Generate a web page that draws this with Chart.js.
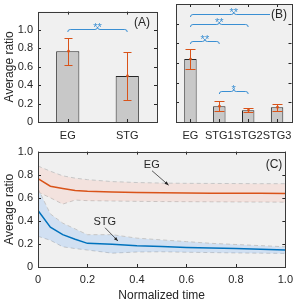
<!DOCTYPE html>
<html>
<head>
<meta charset="utf-8">
<script src="https://cdn.jsdelivr.net/npm/chart.js@4.4.0/dist/chart.umd.min.js"></script>
<style>
  html, body { margin: 0; padding: 0; background: #fff; width: 299px; height: 302px; overflow: hidden; }
  canvas { position: absolute; }
</style>
</head>
<body>
<canvas id="chartA" width="165" height="150" style="left:0;top:0"></canvas>
<canvas id="chartB" width="134" height="150" style="left:165px;top:0"></canvas>
<canvas id="chartC" width="299" height="162" style="left:0;top:140px"></canvas>
<script>
// panel A
const groupsA = ['EG', 'STG'];
const meanA = [0.77, 0.50];
const lowA = [0.62, 0.235];
const highA = [0.91, 0.76];
const sigFromA = [0];
const sigToA = [1];
const sigLevelA = [1.01];
const sigMarkA = ['**'];

// panel B
const groupsB = ['EG', 'STG1', 'STG2', 'STG3'];
const meanB = [0.64, 0.16, 0.12, 0.15];
const lowB = [0.535, 0.11, 0.105, 0.11];
const highB = [0.74, 0.21, 0.14, 0.18];
const sigFromB = [0, 0, 0, 1];
const sigToB = [3, 2, 1, 2];
const sigLevelB = [1.10, 1.0, 0.82, 0.32];
const sigMarkB = ['**', '**', '**', '*'];

// panel C
const timePoints = [0, 0.05, 0.1, 0.15, 0.2, 0.3, 0.4, 0.5, 0.6, 0.7, 0.8, 0.9, 1.0];
const egMean  = [0.765, 0.70, 0.68, 0.662, 0.656, 0.650, 0.646, 0.643, 0.641, 0.640, 0.639, 0.638, 0.637];
const egUpper = [0.875, 0.83, 0.79, 0.77, 0.757, 0.74, 0.732, 0.727, 0.725, 0.724, 0.723, 0.722, 0.722];
const egLower = [0.65, 0.60, 0.545, 0.58, 0.575, 0.572, 0.569, 0.567, 0.566, 0.565, 0.564, 0.563, 0.562];
const stgMean  = [0.49, 0.345, 0.28, 0.24, 0.205, 0.198, 0.185, 0.178, 0.17, 0.165, 0.16, 0.153, 0.147];
const stgUpper = [0.68, 0.46, 0.38, 0.33, 0.28, 0.28, 0.25, 0.235, 0.22, 0.205, 0.195, 0.185, 0.175];
const stgLower = [0.266, 0.232, 0.175, 0.16, 0.147, 0.12, 0.13, 0.132, 0.128, 0.125, 0.122, 0.12, 0.118];

// text arrows in panel C (data coords)
const notes = [
  { text: 'EG',  tx: 0.46, ty: 0.888, from: [0.461, 0.834], to: [0.528, 0.709] },
  { text: 'STG', tx: 0.27, ty: 0.39,  from: [0.271, 0.34],  to: [0.323, 0.226] }
];

const INK = '#262626';
const ORANGE = '#d95319';
const BLUE = '#0072bd';
const BRACE = '#3a8fd3';
const FONT = "'Liberation Sans', Arial, sans-serif";

Chart.defaults.font.family = FONT;
Chart.defaults.color = INK;

const panelBg = {
  id: 'panelBg',
  beforeDraw(chart) {
    const a = chart.chartArea, ctx = chart.ctx;
    ctx.save();
    ctx.fillStyle = '#f0f0f0';
    ctx.fillRect(a.left, a.top, a.right - a.left, a.bottom - a.top);
    ctx.restore();
  }
};

// box round the axes, with inward tick marks on all four sides
const boxTicks = {
  id: 'boxTicks',
  afterDraw(chart) {
    const { ctx, chartArea: a, scales } = chart;
    const L = 3;
    ctx.save();
    ctx.strokeStyle = INK;
    ctx.lineWidth = 1;
    ctx.beginPath();
    scales.x.ticks.forEach((t, i) => {
      const px = Math.round(scales.x.getPixelForTick(i)) + 0.5;
      ctx.moveTo(px, a.bottom); ctx.lineTo(px, a.bottom - L);
      ctx.moveTo(px, a.top); ctx.lineTo(px, a.top + L);
    });
    scales.y.ticks.forEach((t, i) => {
      const py = Math.round(scales.y.getPixelForTick(i)) + 0.5;
      ctx.moveTo(a.left, py); ctx.lineTo(a.left + L, py);
      ctx.moveTo(a.right, py); ctx.lineTo(a.right - L, py);
    });
    ctx.stroke();
    ctx.strokeStyle = '#3a3a3a';
    ctx.strokeRect(Math.round(a.left) + 0.5, Math.round(a.top) + 0.5,
                   Math.round(a.right - a.left), Math.round(a.bottom - a.top));
    ctx.restore();
  }
};

function errorBars(low, high, cap) {
  return {
    id: 'errorBars',
    afterDatasetsDraw(chart) {
      const ctx = chart.ctx, x = chart.scales.x, y = chart.scales.y;
      const mean = chart.data.datasets[0].data;
      ctx.save();
      ctx.strokeStyle = ORANGE;
      ctx.fillStyle = ORANGE;
      ctx.lineWidth = 1;
      low.forEach((lo, i) => {
        const px = Math.round(x.getPixelForValue(i)) + 0.5;
        const y1 = Math.round(y.getPixelForValue(lo)) + 0.5;
        const y2 = Math.round(y.getPixelForValue(high[i])) + 0.5;
        ctx.beginPath();
        ctx.moveTo(px, y1); ctx.lineTo(px, y2);
        ctx.moveTo(px - cap, y1); ctx.lineTo(px + cap, y1);
        ctx.moveTo(px - cap, y2); ctx.lineTo(px + cap, y2);
        ctx.stroke();
        ctx.beginPath();
        ctx.arc(px, y.getPixelForValue(mean[i]), 1.4, 0, Math.PI * 2);
        ctx.fill();
      });
      ctx.restore();
    }
  };
}

function braces(from, to, level, mark) {
  return {
    id: 'braces',
    afterDatasetsDraw(chart) {
      const ctx = chart.ctx, x = chart.scales.x, y = chart.scales.y;
      const h = 2.5;
      ctx.save();
      ctx.strokeStyle = BRACE;
      ctx.fillStyle = BRACE;
      ctx.lineWidth = 1;
      ctx.font = '11px ' + FONT;
      ctx.textAlign = 'center';
      ctx.textBaseline = 'alphabetic';
      from.forEach((f, i) => {
        const x1 = x.getPixelForValue(f), x2 = x.getPixelForValue(to[i]);
        const xm = (x1 + x2) / 2;
        const py = Math.round(y.getPixelForValue(level[i])) + 0.5;
        ctx.beginPath();
        ctx.moveTo(x1, py + h);
        ctx.quadraticCurveTo(x1, py, x1 + h, py);
        ctx.lineTo(xm - h, py);
        ctx.quadraticCurveTo(xm, py, xm, py - h);
        ctx.quadraticCurveTo(xm, py, xm + h, py);
        ctx.lineTo(x2 - h, py);
        ctx.quadraticCurveTo(x2, py, x2, py + h);
        ctx.stroke();
        ctx.fillText(mark[i], xm, py + 1);
      });
      ctx.restore();
    }
  };
}

function panelLabel(text, inset, dy) {
  return {
    id: 'panelLabel',
    afterDatasetsDraw(chart) {
      const ctx = chart.ctx, a = chart.chartArea;
      ctx.save();
      ctx.font = '12px ' + FONT;
      const w = ctx.measureText(text).width;
      const xr = a.right - inset, yc = a.top + dy;
      ctx.fillStyle = '#f0f0f0';
      ctx.fillRect(xr - w - 1, yc - 7, w + 2, 14);
      ctx.fillStyle = INK;
      ctx.textAlign = 'right';
      ctx.textBaseline = 'middle';
      ctx.fillText(text, xr, yc);
      ctx.restore();
    }
  };
}

const textArrows = {
  id: 'textArrows',
  afterDatasetsDraw(chart) {
    const ctx = chart.ctx, x = chart.scales.x, y = chart.scales.y;
    ctx.save();
    ctx.font = '11px ' + FONT;
    ctx.textAlign = 'center';
    ctx.textBaseline = 'middle';
    notes.forEach(n => {
      ctx.fillStyle = INK;
      ctx.fillText(n.text, x.getPixelForValue(n.tx), y.getPixelForValue(n.ty));
      const x1 = x.getPixelForValue(n.from[0]), y1 = y.getPixelForValue(n.from[1]);
      const x2 = x.getPixelForValue(n.to[0]), y2 = y.getPixelForValue(n.to[1]);
      ctx.strokeStyle = '#333';
      ctx.lineWidth = 0.8;
      ctx.beginPath(); ctx.moveTo(x1, y1); ctx.lineTo(x2, y2); ctx.stroke();
      const ang = Math.atan2(y2 - y1, x2 - x1);
      ctx.fillStyle = '#222';
      ctx.beginPath();
      ctx.moveTo(x2, y2);
      ctx.lineTo(x2 - 4 * Math.cos(ang) + 1.6 * Math.sin(ang), y2 - 4 * Math.sin(ang) - 1.6 * Math.cos(ang));
      ctx.lineTo(x2 - 4 * Math.cos(ang) - 1.6 * Math.sin(ang), y2 - 4 * Math.sin(ang) + 1.6 * Math.cos(ang));
      ctx.closePath();
      ctx.fill();
    });
    ctx.restore();
  }
};

const hidden = { legend: { display: false }, tooltip: { enabled: false } };
const noGrid = { display: false, drawTicks: false };
const yTitle = {
  display: true, text: 'Average ratio', color: INK,
  font: { size: 12, lineHeight: 1 }, padding: { top: 4, bottom: 0 }
};

function barOptions(padRight, yWidth, showY) {
  return {
    responsive: false,
    animation: false,
    devicePixelRatio: 1,
    layout: { padding: { top: 4, right: padRight, left: 0, bottom: 0 } },
    plugins: hidden,
    scales: {
      x: {
        grid: noGrid, border: { display: false },
        ticks: { color: INK, font: { size: 11 }, padding: 7, autoSkip: false, maxRotation: 0, minRotation: 0 },
        afterFit: s => { s.height = 28; }
      },
      y: {
        min: 0, max: 1.2,
        grid: noGrid, border: { display: false },
        ticks: { display: showY, stepSize: 0.2, color: INK, font: { size: 11 }, padding: 5 },
        afterBuildTicks: s => { s.ticks = s.ticks.filter(t => t.value <= 1.0001); },
        title: showY ? yTitle : { display: false },
        afterFit: s => { s.width = yWidth; }
      }
    }
  };
}

function barData(labels, values, pct) {
  return {
    labels: labels,
    datasets: [{
      data: values,
      backgroundColor: '#c8c8c8',
      borderColor: INK,
      borderWidth: 1,
      barPercentage: pct,
      categoryPercentage: 1
    }]
  };
}

new Chart(document.getElementById('chartA'), {
  type: 'bar',
  data: barData(groupsA, meanA, 0.39),
  options: barOptions(8, 38, true),
  plugins: [panelBg, errorBars(lowA, highA, 4), braces(sigFromA, sigToA, sigLevelA, sigMarkA), panelLabel('(A)', 7, 11), boxTicks]
});

new Chart(document.getElementById('chartB'), {
  type: 'bar',
  data: barData(groupsB, meanB, 0.43),
  options: barOptions(4.5, 11, false),
  plugins: [panelBg, errorBars(lowB, highB, 5), braces(sigFromB, sigToB, sigLevelB, sigMarkB), panelLabel('(B)', 4.5, 11), boxTicks]
});

const pts = arr => arr.map((v, i) => ({ x: timePoints[i], y: v }));
const line = (arr, color) => ({
  data: pts(arr), borderColor: color, borderWidth: 1.5, pointRadius: 0, fill: false, tension: 0
});
const edge = (arr, fillColor) => ({
  data: pts(arr), borderColor: '#c6c6c6', borderWidth: 1, borderDash: [4, 3],
  pointRadius: 0, tension: 0,
  fill: fillColor ? '+1' : false,
  backgroundColor: fillColor || 'transparent'
});

new Chart(document.getElementById('chartC'), {
  type: 'line',
  data: {
    datasets: [
      line(egMean, ORANGE),
      line(stgMean, BLUE),
      edge(egUpper, 'rgba(255,170,150,0.2)'),
      edge(egLower),
      edge(stgUpper, 'rgba(100,170,250,0.22)'),
      edge(stgLower)
    ]
  },
  options: {
    responsive: false,
    animation: false,
    devicePixelRatio: 1,
    layout: { padding: { top: 10, right: 5, left: 0, bottom: 0 } },
    plugins: hidden,
    scales: {
      x: {
        type: 'linear', min: 0, max: 1,
        grid: noGrid, border: { display: false },
        ticks: { stepSize: 0.2, color: INK, font: { size: 11 }, padding: 6, maxRotation: 0 },
        title: {
          display: true, text: 'Normalized time', color: INK,
          font: { size: 12, lineHeight: 1 }, padding: { top: 0, bottom: 0 }
        },
        afterFit: s => { s.height = 35; }
      },
      y: {
        min: 0, max: 1,
        grid: noGrid, border: { display: false },
        ticks: { stepSize: 0.2, color: INK, font: { size: 11 }, padding: 5 },
        title: yTitle,
        afterFit: s => { s.width = 38; }
      }
    }
  },
  plugins: [panelBg, textArrows, panelLabel('(C)', 3, 13), boxTicks]
});
</script>
</body>
</html>
